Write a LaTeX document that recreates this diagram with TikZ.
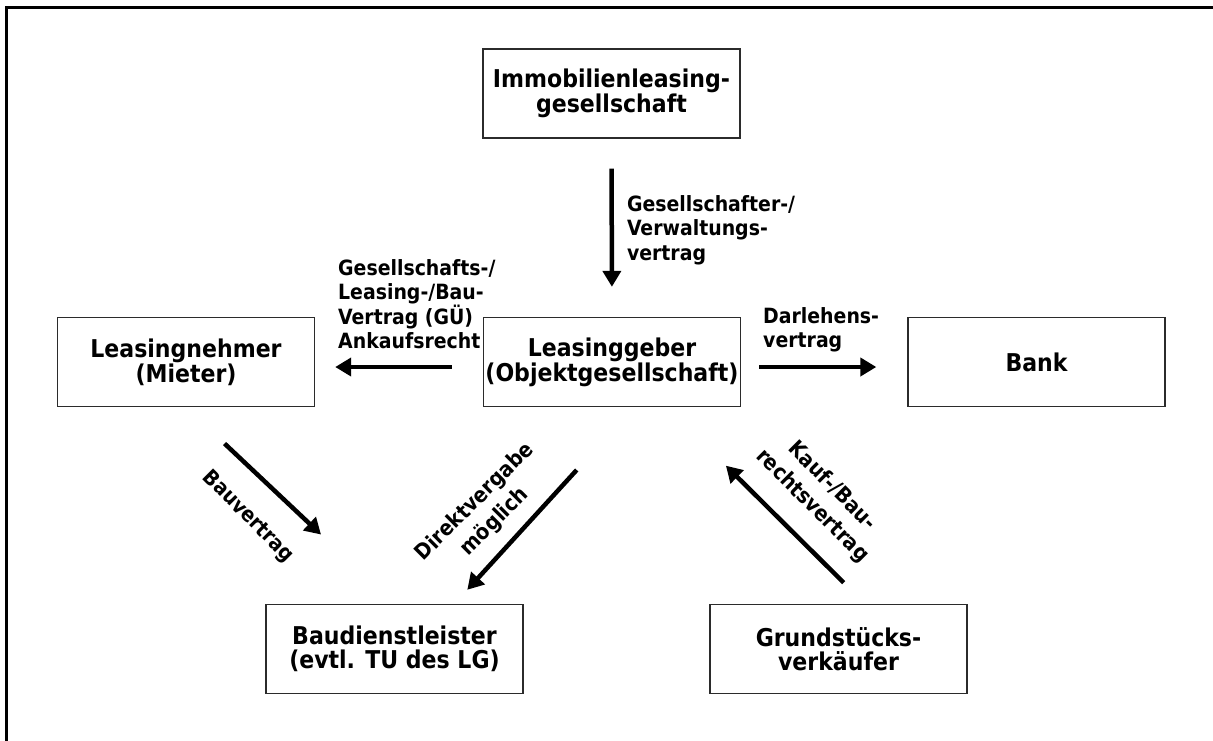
\documentclass[tikz,border=0pt]{standalone}
\usepackage{fontspec}
\setmainfont{DejaVu Sans Condensed}
\usepackage{xcolor}
\usepackage{tikz}
\usetikzlibrary{calc,arrows.meta}
\definecolor{boxline}{HTML}{2B2B2B}

\begin{document}
\begin{tikzpicture}[x=1pt,y=-1pt,
  box/.style={draw=boxline,line width=1.4pt,minimum width=257pt,minimum height=89pt,align=center,inner sep=0pt,font=\bfseries\fontsize{24.5}{23.5}\selectfont},
  arr/.style={line width=4.5pt,-{Triangle[length=16pt,width=18pt]}},
  lbl/.style={align=left,inner sep=0pt,font=\bfseries\fontsize{21}{24.5}\selectfont},
  rlbl/.style={align=center,inner sep=0pt,font=\bfseries\fontsize{21.5}{28}\selectfont}]
\useasboundingbox (0,0) rectangle (1213,740);
\draw[line width=3.2pt] (6.8,745) -- (6.8,7.8) -- (1220,7.8);
\node[box] (ilg) at (611.5,93.5) {Immobilienleasing-\\gesellschaft};
\node[box] (lg) at (612,362) {Leasinggeber\\(Objektgesellschaft)};
\node[box] (ln) at (186,362) {Leasingnehmer\\(Mieter)};
\node[box] (bank) at (1036.5,362) {Bank};
\node[box] (bd) at (394.5,649) {Baudienstleister\\(evtl. TU des LG)};
\node[box] (gv) at (838.5,649) {Grundstücks-\\verkäufer};
\draw[arr,shorten <=30pt,shorten >=30pt] (ilg.south) -- (lg.north) node[lbl,midway,anchor=west,xshift=13pt,yshift=-2.5pt] (lvw) {Gesellschafter-/\\Verwaltungs-\\vertrag};
\draw[arr,shorten <=31pt,shorten >=20pt] ([yshift=-5pt]lg.west) -- ([yshift=-5pt]ln.east);
\node[lbl,anchor=north west] (lgv) at (338,259) {Gesellschafts-/\\Leasing-/Bau-\\Vertrag (GÜ)\\Ankaufsrecht};
\draw[arr,shorten <=18pt,shorten >=31pt] ([yshift=-5pt]lg.east) -- ([yshift=-5pt]bank.west);
\node[lbl,anchor=north west] (ldv) at (763,307) {Darlehens-\\vertrag};
\draw[arr,shorten <=53pt,shorten >=101pt] (ln.south) -- (bd.north);
\node[lbl,rotate=-45] (lbv) at (248,517) {Bauvertrag};
\draw[arr,shorten <=85pt,shorten >=19pt] ([xshift=22pt]lg.south) -- ([xshift=60pt]bd.north);
\node[rlbl,rotate=45] (ldm) at (485,512) {Direktvergabe\\möglich};
\draw[arr,shorten <=30pt,shorten >=83pt] ([xshift=26.5pt]gv.north) -- ([xshift=55pt]lg.south);
\node[rlbl,rotate=-45] (lkb) at (822,496) {Kauf-/Bau-\\rechtsvertrag};
\end{tikzpicture}
\end{document}
